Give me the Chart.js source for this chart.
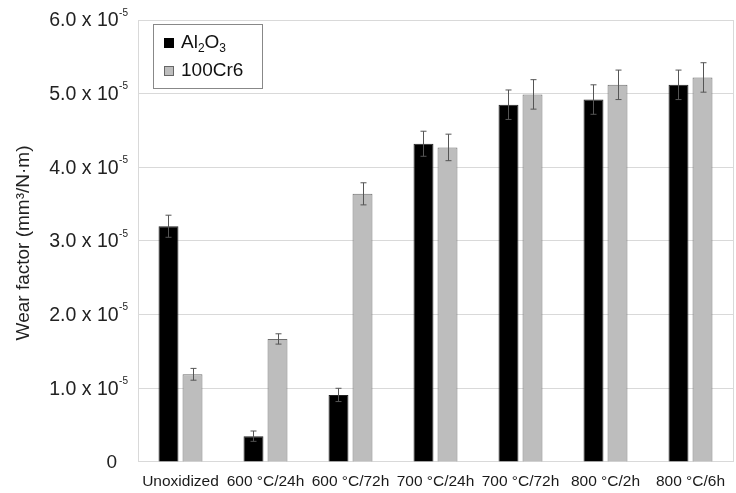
<!DOCTYPE html>
<html>
<head>
<meta charset="utf-8">
<script src="https://cdn.jsdelivr.net/npm/chart.js@4.4.1/dist/chart.umd.min.js"></script>
<style>
  html, body { margin: 0; padding: 0; background: #fff; }
  #wrap { width: 736px; height: 493px; }
</style>
</head>
<body>
<div id="wrap"><canvas id="myChart" width="736" height="493"></canvas></div>
<script>
// values are in units of 10^-5 mm3/N.m
const categories = ["Unoxidized", "600 °C/24h", "600 °C/72h", "700 °C/24h", "700 °C/72h", "800 °C/2h", "800 °C/6h"];
const al2o3 = [3.2, 0.35, 0.91, 4.32, 4.85, 4.92, 5.12];
const al2o3Err = [0.15, 0.07, 0.09, 0.17, 0.2, 0.2, 0.2];
const cr6 = [1.19, 1.67, 3.64, 4.27, 4.99, 5.12, 5.22];
const cr6Err = [0.08, 0.07, 0.15, 0.18, 0.2, 0.2, 0.2];
const yTicks = [0, 1, 2, 3, 4, 5, 6];

const FONT = "'Liberation Sans', Arial, sans-serif";

const errorBars = {
  id: "errorBars",
  afterDatasetsDraw(chart) {
    const ctx = chart.ctx;
    const y = chart.scales.y;
    ctx.save();
    ctx.strokeStyle = "#555";
    ctx.lineWidth = 1;
    chart.data.datasets.forEach((ds, i) => {
      const meta = chart.getDatasetMeta(i);
      meta.data.forEach((bar, j) => {
        const v = ds.data[j];
        const e = ds.errors[j];
        const top = y.getPixelForValue(v + e);
        const bot = y.getPixelForValue(v - e);
        const x = Math.round(bar.x) + 0.5;
        ctx.beginPath();
        ctx.moveTo(x, top);
        ctx.lineTo(x, bot);
        ctx.moveTo(x - 3, top);
        ctx.lineTo(x + 3, top);
        ctx.moveTo(x - 3, bot);
        ctx.lineTo(x + 3, bot);
        ctx.stroke();
      });
    });
    ctx.restore();
  }
};

const axisText = {
  id: "axisText",
  afterDraw(chart) {
    const ctx = chart.ctx;
    const y = chart.scales.y;
    const area = chart.chartArea;
    ctx.save();
    // right frame line
    ctx.strokeStyle = "#d9d9d9";
    ctx.beginPath();
    ctx.moveTo(Math.round(area.right) + 0.5, area.top);
    ctx.lineTo(Math.round(area.right) + 0.5, area.bottom);
    ctx.stroke();

    ctx.fillStyle = "#222";
    ctx.textBaseline = "middle";
    yTicks.forEach((t) => {
      const py = y.getPixelForValue(t);
      if (t === 0) {
        ctx.font = "19px " + FONT;
        ctx.textAlign = "right";
        ctx.fillText("0", 117, py + 1);
        return;
      }
      ctx.font = "10px " + FONT;
      ctx.textAlign = "left";
      const sup = "-5";
      const supW = ctx.measureText(sup).width;
      const right = 128;
      ctx.fillText(sup, right - supW, py - 7);
      ctx.font = "19.5px " + FONT;
      ctx.textAlign = "right";
      ctx.fillText(t.toFixed(1) + " x 10", right - supW - 0.5, py + 1);
    });

    // y axis title
    ctx.save();
    ctx.translate(24, (area.top + area.bottom) / 2 + 2);
    ctx.rotate(-Math.PI / 2);
    ctx.font = "19px " + FONT;
    ctx.textAlign = "center";
    ctx.fillText("Wear factor (mm³/N·m)", 0, 0);
    ctx.restore();

    // legend
    const lx = 153, ly = 24, lw = 109, lh = 64;
    ctx.fillStyle = "#fff";
    ctx.fillRect(lx, ly, lw, lh);
    ctx.strokeStyle = "#888";
    ctx.strokeRect(lx + 0.5, ly + 0.5, lw, lh);
    const items = [
      { fill: "#000", stroke: "#000", main: ["Al", "2", "O", "3"], y: ly + 19 },
      { fill: "#bdbdbd", stroke: "#666", main: ["100Cr6"], y: ly + 47 }
    ];
    items.forEach((it) => {
      ctx.fillStyle = it.fill;
      ctx.fillRect(lx + 11, it.y - 5, 10, 10);
      ctx.strokeStyle = it.stroke;
      ctx.strokeRect(lx + 11.5, it.y - 4.5, 9, 9);
      ctx.fillStyle = "#111";
      ctx.textAlign = "left";
      let x = lx + 28;
      it.main.forEach((s, k) => {
        const isSub = it.main.length > 1 && k % 2 === 1;
        ctx.font = (isSub ? "12px " : "19px ") + FONT;
        ctx.fillText(s, x, it.y + (isSub ? 6 : 0));
        x += ctx.measureText(s).width;
      });
    });
    ctx.restore();
  }
};

const ctx = document.getElementById("myChart").getContext("2d");
const myChart = new Chart(ctx, {
  type: "bar",
  data: {
    labels: categories,
    datasets: [
      {
        label: "Al2O3",
        data: al2o3,
        errors: al2o3Err,
        backgroundColor: "#000",
        borderColor: "#222",
        borderWidth: 1
      },
      {
        label: "100Cr6",
        data: cr6,
        errors: cr6Err,
        backgroundColor: "#bdbdbd",
        borderColor: "#6e6e6e",
        borderWidth: 1
      }
    ]
  },
  options: {
    responsive: false,
    animation: false,
    layout: { padding: { left: 138, top: 20, right: 3, bottom: 0 } },
    categoryPercentage: 0.565,
    barPercentage: 0.83,
    plugins: {
      legend: { display: false },
      tooltip: { enabled: false }
    },
    scales: {
      x: {
        grid: { display: false },
        border: { display: true, color: "#d9d9d9" },
        ticks: {
          color: "#1a1a1a",
          font: { family: FONT, size: 15.5, lineHeight: 1.1 },
          maxRotation: 0,
          autoSkip: false,
          padding: 3
        }
      },
      y: {
        min: 0,
        max: 6,
        ticks: { display: false, stepSize: 1 },
        grid: { color: "#d9d9d9", drawTicks: false },
        border: { display: true, color: "#d9d9d9" }
      }
    }
  },
  plugins: [errorBars, axisText]
});
</script>
</body>
</html>
